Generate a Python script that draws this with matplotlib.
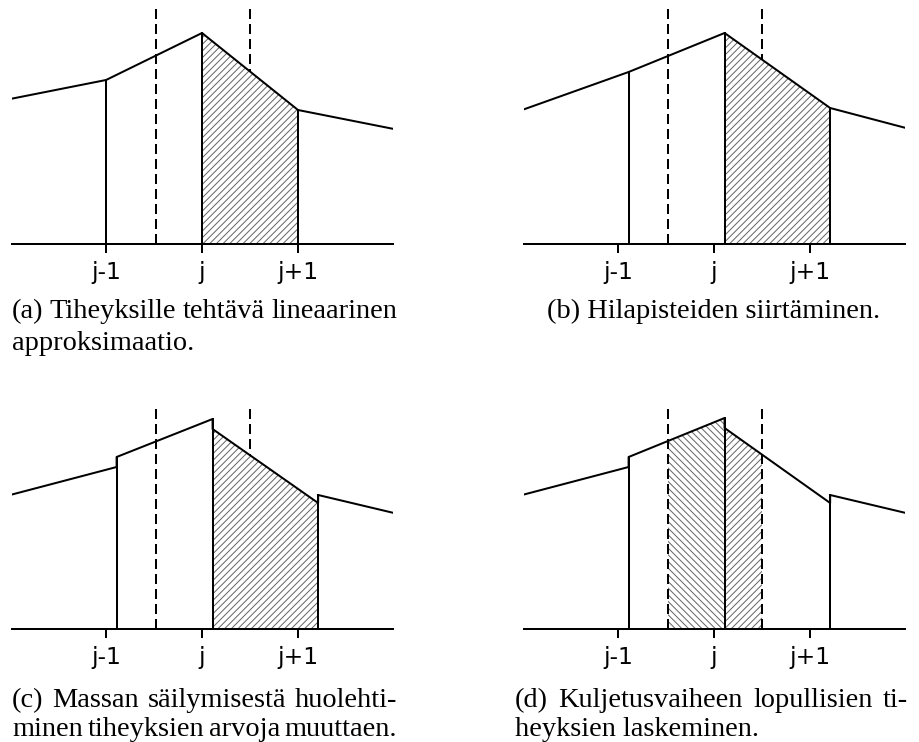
import numpy as np
import matplotlib
matplotlib.use('Agg')
import matplotlib.pyplot as plt

W, H, DPI = 919, 742, 120

tick_pos = [-1, 0, 1]
tick_labels = ['j-1', 'j', 'j+1']
cell_edges = [-0.48, 0.5]

# (a) linear approximation at the grid points
x_a = [-2, -1, 0, 1, 2]
rho_a = [145, 164, 211, 134, 115]

# (b) grid points moved
x_b = [-2, -0.89, 0.11, 1.21, 2]
rho_b = [134, 172, 211, 136, 116]

# (c) and (d) values changed for mass conservation (jumps at moved points)
x_c = [-2, -0.89, -0.89, 0.11, 0.11, 1.21, 1.21, 2]
rho_c = [134, 162, 172, 210, 200, 126, 134, 116]
rho_d = [134, 162, 172, 211, 201, 126, 134, 116]

cap_a = ["(a) Tiheyksille tehtävä lineaarinen", "approksimaatio."]
cap_b = ["(b) Hilapisteiden siirtäminen."]
cap_c = ["(c) Massan säilymisestä huolehti-", "minen tiheyksien arvoja muuttaen."]
cap_d = ["(d) Kuljetusvaiheen lopullisien ti-", "heyksien laskeminen."]

LW = 1.2
CAP_FONT = 'Liberation Serif'
CAP_FS = 17

plt.rcParams['hatch.linewidth'] = 0.6

fig = plt.figure(figsize=(W / DPI, H / DPI), dpi=DPI)


def make_axes(left_px, base_px, height_px):
    ax = fig.add_axes([left_px / W, 1 - base_px / H, 381 / W, height_px / H])
    ax.set_xlim(-1.98, 1.99)
    ax.set_ylim(0, height_px)
    for s in ['top', 'right', 'left']:
        ax.spines[s].set_visible(False)
    ax.spines['bottom'].set_linewidth(LW)
    ax.set_yticks([])
    ax.set_xticks(tick_pos, tick_labels)
    ax.tick_params(axis='x', direction='out', length=5.4, width=LW, pad=5,
                   labelsize=14)
    ax.patch.set_visible(False)
    return ax


def hatch_region(ax, x, rho, i, lo, hi, pattern):
    ys = np.interp([lo, hi], x[i:i + 2], rho[i:i + 2])
    ax.fill([lo, lo, hi, hi], [0, ys[0], ys[1], 0], facecolor='white',
            edgecolor='0.4', hatch=pattern, linewidth=0, zorder=2)


def verticals(ax, x, rho, where):
    for xv in where:
        h = max(r for xx, r in zip(x, rho) if xx == xv)
        ax.plot([xv, xv], [0, h], color='black', lw=LW, zorder=3)


def dashed(ax, z):
    top = ax.get_ylim()[1]
    for xe in cell_edges:
        ax.plot([xe, xe], [0, top], color='black', lw=LW,
                ls=(0, (5, 2.5)), zorder=z)


# (a)
ax = make_axes(12, 244, 240)
dashed(ax, 1)
hatch_region(ax, x_a, rho_a, 2, 0, 1, '//////')
ax.plot(x_a, rho_a, color='black', lw=LW, zorder=3)
verticals(ax, x_a, rho_a, [-1, 0, 1])

# (b)
ax = make_axes(524, 244, 240)
dashed(ax, 1)
hatch_region(ax, x_b, rho_b, 2, x_b[2], x_b[3], '//////')
ax.plot(x_b, rho_b, color='black', lw=LW, zorder=3)
verticals(ax, x_b, rho_b, [-0.89, 0.11, 1.21])

# (c)
ax = make_axes(12, 629, 225)
dashed(ax, 1)
hatch_region(ax, x_c, rho_c, 4, x_c[4], x_c[5], '//////')
ax.plot(x_c, rho_c, color='black', lw=LW, zorder=3)
verticals(ax, x_c, rho_c, [-0.89, 0.11, 1.21])

# (d)
ax = make_axes(524, 629, 225)
hatch_region(ax, x_c, rho_d, 2, cell_edges[0], x_c[3], '\\' * 6)
hatch_region(ax, x_c, rho_d, 4, x_c[4], cell_edges[1], '//////')
ax.plot(x_c, rho_d, color='black', lw=LW, zorder=3)
verticals(ax, x_c, rho_d, [-0.89, 0.11, 1.21])
dashed(ax, 4)

# captions
renderer = fig.canvas.get_renderer()


def put_line(text, x0, base, x1=None, ha='left'):
    kw = dict(va='baseline', fontsize=CAP_FS, family=CAP_FONT)
    if x1 is None:
        fig.text(x0 / W, 1 - base / H, text, ha=ha, **kw)
        return
    words = text.split()
    items = [fig.text(0, 1 - base / H, w, ha='left', **kw) for w in words]
    widths = [t.get_window_extent(renderer=renderer).width for t in items]
    gap = (x1 - x0 - sum(widths)) / (len(words) - 1)
    xp = x0
    for t, wd in zip(items, widths):
        t.set_x(xp / W)
        xp += wd + gap


put_line(cap_a[0], 12, 318, 397)
put_line(cap_a[1], 12, 350)
put_line(cap_b[0], 714, 318, ha='center')
put_line(cap_c[0], 12, 707, 397)
put_line(cap_c[1], 12, 736, 397)
put_line(cap_d[0], 515, 707, 908)
put_line(cap_d[1], 515, 736)

fig.savefig('out.png', dpi=DPI)
